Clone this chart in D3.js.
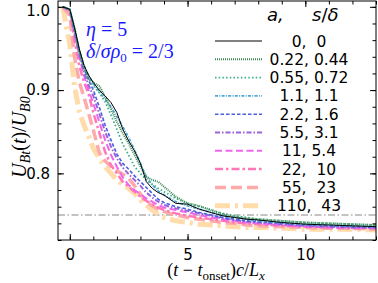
<!DOCTYPE html>
<html lang="en">
<head>
<meta charset="utf-8">
<script src="https://d3js.org/d3.v7.min.js"></script>
<style type="text/css">
body { margin: 0; background: #fff; }
.tick text { font-family: "DejaVu Sans", sans-serif; font-size: 15px; fill: #000; }
.math { font-family: "Liberation Serif", serif; }
.legend text { font-family: "DejaVu Sans", sans-serif; font-size: 15.5px; }
</style>
</head>
<body>
<script type="text/javascript">

var width = 378, height = 283;
var margin = {left: 58, right: 2, top: 1, bottom: 43};

// time grid, (t - t_onset) c / L_x
var times = [-0.3, 0, 0.2, 0.4, 0.6, 0.8, 1, 1.25, 1.5, 1.75, 2, 2.25, 2.5, 2.75, 3, 3.25, 3.5, 3.75, 4, 4.5, 5, 5.5, 6, 6.5, 7, 7.5, 8, 9, 10, 11, 12, 13];

var labels = ["0,  0", "0.22, 0.44", "0.55, 0.72", "1.1, 1.1", "2.2, 1.6", "5.5, 3.1", "11, 5.4", "22,  10", "55,  23", "110,  43"];

var u0    = [1, 0.997, 0.975, 0.95, 0.93, 0.918, 0.909, 0.9, 0.893, 0.885, 0.873, 0.853, 0.839, 0.827, 0.812, 0.79, 0.782, 0.777, 0.774, 0.764, 0.763, 0.757, 0.753, 0.749, 0.747, 0.745, 0.744, 0.741, 0.739, 0.738, 0.737, 0.736];
var u022  = [1, 0.997, 0.975, 0.948, 0.928, 0.915, 0.909, 0.905, 0.892, 0.877, 0.862, 0.848, 0.836, 0.822, 0.808, 0.796, 0.792, 0.79, 0.784, 0.772, 0.764, 0.761, 0.756, 0.751, 0.748, 0.746, 0.745, 0.743, 0.741, 0.74, 0.739, 0.738];
var u055  = [1, 0.997, 0.973, 0.946, 0.927, 0.913, 0.905, 0.897, 0.886, 0.87, 0.853, 0.835, 0.822, 0.808, 0.8, 0.792, 0.787, 0.782, 0.778, 0.77, 0.764, 0.76, 0.756, 0.752, 0.749, 0.747, 0.745, 0.743, 0.741, 0.74, 0.739, 0.738];
var u11   = [1, 0.997, 0.974, 0.948, 0.93, 0.917, 0.908, 0.898, 0.889, 0.88, 0.868, 0.856, 0.843, 0.828, 0.812, 0.796, 0.786, 0.779, 0.774, 0.766, 0.761, 0.757, 0.753, 0.749, 0.747, 0.745, 0.743, 0.741, 0.739, 0.738, 0.737, 0.736];
var u22   = [1, 0.997, 0.972, 0.946, 0.926, 0.912, 0.9, 0.88, 0.858, 0.84, 0.823, 0.812, 0.805, 0.797, 0.79, 0.783, 0.776, 0.769, 0.765, 0.76, 0.757, 0.753, 0.75, 0.747, 0.745, 0.743, 0.742, 0.74, 0.738, 0.737, 0.736, 0.735];
var u55   = [1, 0.996, 0.97, 0.944, 0.922, 0.906, 0.893, 0.872, 0.85, 0.832, 0.818, 0.807, 0.799, 0.792, 0.785, 0.777, 0.771, 0.766, 0.762, 0.758, 0.755, 0.752, 0.749, 0.746, 0.744, 0.742, 0.741, 0.739, 0.737, 0.736, 0.735, 0.735];
var u110  = [1, 0.996, 0.968, 0.94, 0.918, 0.9, 0.884, 0.862, 0.84, 0.822, 0.808, 0.795, 0.786, 0.78, 0.775, 0.77, 0.766, 0.762, 0.759, 0.756, 0.753, 0.75, 0.747, 0.745, 0.743, 0.741, 0.74, 0.738, 0.736, 0.735, 0.735, 0.734];
var u220  = [1, 0.995, 0.96, 0.93, 0.91, 0.895, 0.873, 0.849, 0.826, 0.81, 0.8, 0.79, 0.784, 0.778, 0.772, 0.767, 0.763, 0.759, 0.756, 0.752, 0.749, 0.747, 0.745, 0.743, 0.741, 0.74, 0.739, 0.737, 0.736, 0.735, 0.734, 0.734];
var u550  = [1, 0.99, 0.94, 0.91, 0.892, 0.872, 0.852, 0.825, 0.815, 0.808, 0.803, 0.799, 0.794, 0.785, 0.775, 0.766, 0.761, 0.757, 0.754, 0.75, 0.747, 0.745, 0.743, 0.741, 0.74, 0.738, 0.737, 0.736, 0.735, 0.734, 0.734, 0.733];
var u1100 = [1, 0.955, 0.905, 0.875, 0.858, 0.845, 0.83, 0.818, 0.808, 0.8, 0.792, 0.787, 0.782, 0.776, 0.768, 0.762, 0.756, 0.751, 0.747, 0.743, 0.741, 0.739, 0.738, 0.737, 0.736, 0.735, 0.735, 0.734, 0.733, 0.733, 0.733, 0.732];

var series = [u0, u022, u055, u11, u22, u55, u110, u220, u550, u1100];

var colors = ["#000000", "#3d8a55", "#3aae8c", "#4ea6d6", "#4a5fe0", "#9a63dc", "#ee66ee", "#ff77b8", "#ffaaaa", "#ffdcaa"];
var widths = [1, 2, 1.8, 1.8, 1.6, 2, 2, 2.5, 3.5, 5];
var dashes = ["none", "1,1", "1.5,2.2", "3,1.3,1,1.3", "3.5,2", "5,2,1.5,2", "7,3.5", "8,3,2.5,3", "11,5", "15,5,3,5"];

var svg = d3.select("body").append("svg")
  .attr("width", width)
  .attr("height", height);

var x = d3.scaleLinear().domain([-0.5, 13]).range([margin.left, width - margin.right]);
var y = d3.scaleLinear().domain([0.72, 1.007]).range([height - margin.bottom, margin.top]);

var x0 = x.range()[0], x1 = x.range()[1], y0 = y.range()[0], y1 = y.range()[1];

// grey reference line
svg.append("line")
  .attr("x1", x0).attr("x2", x1)
  .attr("y1", y(0.75)).attr("y2", y(0.75))
  .style("stroke", "#b0b0b0")
  .style("stroke-width", 1.5)
  .style("stroke-dasharray", "7,2.5,1.5,2.5");

var line = d3.line()
  .x(function(d, i) { return x(times[i]); })
  .y(function(d) { return y(d); });

// draw thickest first so thin lines sit on top
for (var k = series.length - 1; k >= 0; k--) {
  svg.append("path")
    .datum(series[k])
    .attr("d", line)
    .style("fill", "none")
    .style("stroke", colors[k])
    .style("stroke-width", widths[k])
    .style("stroke-dasharray", dashes[k]);
}

// axes, ticks inward on all four sides
function ticksIn(g) { g.select(".domain").remove(); }

svg.append("g")
  .attr("transform", "translate(0," + y0 + ")")
  .call(d3.axisBottom(x).tickValues([0, 5, 10]).tickSize(-6).tickPadding(9).tickFormat(d3.format("d")))
  .call(ticksIn);
svg.append("g")
  .attr("transform", "translate(0," + y0 + ")")
  .call(d3.axisBottom(x).tickValues(d3.range(0, 14, 1)).tickSize(-3.5).tickFormat(""))
  .call(ticksIn);
svg.append("g")
  .attr("transform", "translate(0," + y1 + ")")
  .call(d3.axisTop(x).tickValues([0, 5, 10]).tickSize(-6).tickFormat(""))
  .call(ticksIn);
svg.append("g")
  .attr("transform", "translate(0," + y1 + ")")
  .call(d3.axisTop(x).tickValues(d3.range(0, 14, 1)).tickSize(-3.5).tickFormat(""))
  .call(ticksIn);

var yAxis = svg.append("g")
  .attr("transform", "translate(" + x0 + ",0)")
  .call(d3.axisLeft(y).tickValues([0.8, 0.9, 1.0]).tickSize(-6).tickPadding(8).tickFormat(d3.format(".1f")))
  .call(ticksIn);
// keep the top label inside the figure
yAxis.selectAll(".tick text").filter(function(d) { return d === 1.0; }).attr("dy", "0.6em");
svg.append("g")
  .attr("transform", "translate(" + x0 + ",0)")
  .call(d3.axisLeft(y).tickValues(d3.range(0.72, 1.005, 0.02)).tickSize(-3.5).tickFormat(""))
  .call(ticksIn);
svg.append("g")
  .attr("transform", "translate(" + x1 + ",0)")
  .call(d3.axisRight(y).tickValues([0.8, 0.9, 1.0]).tickSize(-6).tickFormat(""))
  .call(ticksIn);
svg.append("g")
  .attr("transform", "translate(" + x1 + ",0)")
  .call(d3.axisRight(y).tickValues(d3.range(0.72, 1.005, 0.02)).tickSize(-3.5).tickFormat(""))
  .call(ticksIn);

svg.selectAll(".tick line").style("stroke", "#000").style("stroke-width", 1);

svg.append("rect")
  .attr("x", x0).attr("y", y1)
  .attr("width", x1 - x0).attr("height", y0 - y1)
  .style("fill", "none")
  .style("stroke", "#000")
  .style("stroke-width", 1);

// annotation
var ann = svg.append("g").attr("class", "math").style("fill", "#1a1aff").style("font-size", "20px");
var a1 = ann.append("text").attr("x", 86).attr("y", 36);
a1.append("tspan").style("font-style", "italic").text("η");
a1.append("tspan").text(" = 5");
var a2 = ann.append("text").attr("x", 86).attr("y", 58);
a2.append("tspan").style("font-style", "italic").text("δ");
a2.append("tspan").text("/");
a2.append("tspan").style("font-style", "italic").text("σρ");
a2.append("tspan").style("font-size", "13px").attr("dy", 4).text("0");
a2.append("tspan").attr("dy", -4).text(" = 2/3");

// legend
var legend = svg.append("g").attr("class", "legend");
var head = legend.append("text").attr("class", "math").attr("y", 21).style("font-size", "18px").style("font-style", "italic");
head.append("tspan").attr("x", 267).text("a,");
head.append("tspan").attr("x", 312).text("s");
head.append("tspan").style("font-style", "normal").text("/");
head.append("tspan").text("δ");

labels.forEach(function(lab, i) {
  var ly = 41 + i * 18.3;
  legend.append("line")
    .attr("x1", 215).attr("x2", 262)
    .attr("y1", ly).attr("y2", ly)
    .style("stroke", colors[i])
    .style("stroke-width", widths[i])
    .style("stroke-dasharray", dashes[i]);
  legend.append("text")
    .attr("x", 309).attr("y", ly + 5.5)
    .attr("text-anchor", "middle")
    .style("white-space", "pre")
    .attr("xml:space", "preserve")
    .text(lab);
});

// axis labels
var xl = svg.append("text").attr("class", "math")
  .attr("x", 216).attr("y", 276)
  .attr("text-anchor", "middle")
  .style("font-size", "18px");
xl.append("tspan").text("(");
xl.append("tspan").style("font-style", "italic").text("t");
xl.append("tspan").text(" − ");
xl.append("tspan").style("font-style", "italic").text("t");
xl.append("tspan").style("font-size", "13px").attr("dy", 4).text("onset");
xl.append("tspan").attr("dy", -4).text(")");
xl.append("tspan").style("font-style", "italic").text("c");
xl.append("tspan").text("/");
xl.append("tspan").style("font-style", "italic").text("L");
xl.append("tspan").style("font-size", "13px").style("font-style", "italic").attr("dy", 4).text("x");

var yl = svg.append("text").attr("class", "math")
  .attr("transform", "translate(26,137) rotate(-90)")
  .attr("text-anchor", "middle")
  .style("font-size", "20px");
yl.append("tspan").style("font-style", "italic").text("U");
yl.append("tspan").style("font-size", "14px").style("font-style", "italic").attr("dy", 4).text("Bt");
yl.append("tspan").attr("dy", -4).text("(");
yl.append("tspan").style("font-style", "italic").text("t");
yl.append("tspan").text(")/");
yl.append("tspan").style("font-style", "italic").text("U");
yl.append("tspan").style("font-size", "14px").style("font-style", "italic").attr("dy", 4).text("B0");

</script>
</body>
</html>
